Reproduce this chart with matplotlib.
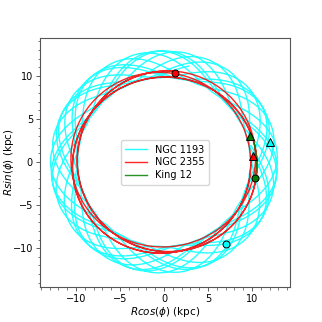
import numpy as np
import matplotlib
matplotlib.use("Agg")
import matplotlib.pyplot as plt
from matplotlib.ticker import AutoMinorLocator

# cluster names and colours
clusters = ["NGC 1193", "NGC 2355", "King 12"]
colors = ["cyan", "red", "green"]

# orbit parameters (kpc, degrees)
r_peri = [9.8, 9.85, 10.2]
r_apo = [12.9, 10.7, 10.5]
phi_start = [11.0, 4.0, 17.0]       # triangle marker (start)
turns = [10.82, 4.78, 0.075]         # clockwise turns until circle marker
kappa_ratio = [3.62, 1.33, 1.4]      # radial / azimuthal frequency
phase0 = [0.6, 0.2, 2.6]

# marker positions (x, y)
start_x = [12.0, 10.1, 9.8]
start_y = [2.3, 0.7, 3.0]
end_x = [7.0, 1.3, 10.3]
end_y = [-9.5, 10.3, -1.8]

fig = plt.figure(figsize=(3.22, 3.22), dpi=100)
ax = fig.add_axes([0.124, 0.109, 0.776, 0.773])

for i, name in enumerate(clusters):
    t = np.linspace(0, turns[i] * 2 * np.pi, int(3000 * max(turns[i], 0.5)))
    rg = (r_peri[i] + r_apo[i]) / 2
    amp = (r_apo[i] - r_peri[i]) / 2
    R = rg - amp * np.cos(kappa_ratio[i] * t + phase0[i])
    phi = np.radians(phi_start[i]) - t
    ax.plot(R * np.cos(phi), R * np.sin(phi), color=colors[i], lw=1.0,
            alpha=0.85, label=name)

for i in range(len(clusters)):
    ax.plot(start_x[i], start_y[i], marker="^", ms=6, color=colors[i],
            mec="black", mew=0.7, ls="none")
    ax.plot(end_x[i], end_y[i], marker="o", ms=5, color=colors[i],
            mec="black", mew=0.7, ls="none")

ax.set_xlim(-14.1, 14.3)
ax.set_ylim(-14.5, 14.4)
ax.set_xticks([-10, -5, 0, 5, 10])
ax.set_yticks([-10, -5, 0, 5, 10])
ax.xaxis.set_minor_locator(AutoMinorLocator(5))
ax.yaxis.set_minor_locator(AutoMinorLocator(5))
ax.tick_params(labelsize=7, width=0.6, length=3, color="#444444", pad=2)
ax.tick_params(which="minor", width=0.5, length=1.8, color="#444444")
for s in ax.spines.values():
    s.set_color("#555555")
    s.set_linewidth(0.8)

ax.set_xlabel(r"$Rcos(\phi)$ (kpc)", fontsize=7.5, labelpad=1)
ax.set_ylabel(r"$Rsin(\phi)$ (kpc)", fontsize=7.5)
ax.yaxis.set_label_coords(-0.095, 0.5)

ax.legend(loc="center", fontsize=7, frameon=True, handlelength=2.2,
          borderpad=0.5, labelspacing=0.3)

plt.savefig("out.png", dpi=100)
